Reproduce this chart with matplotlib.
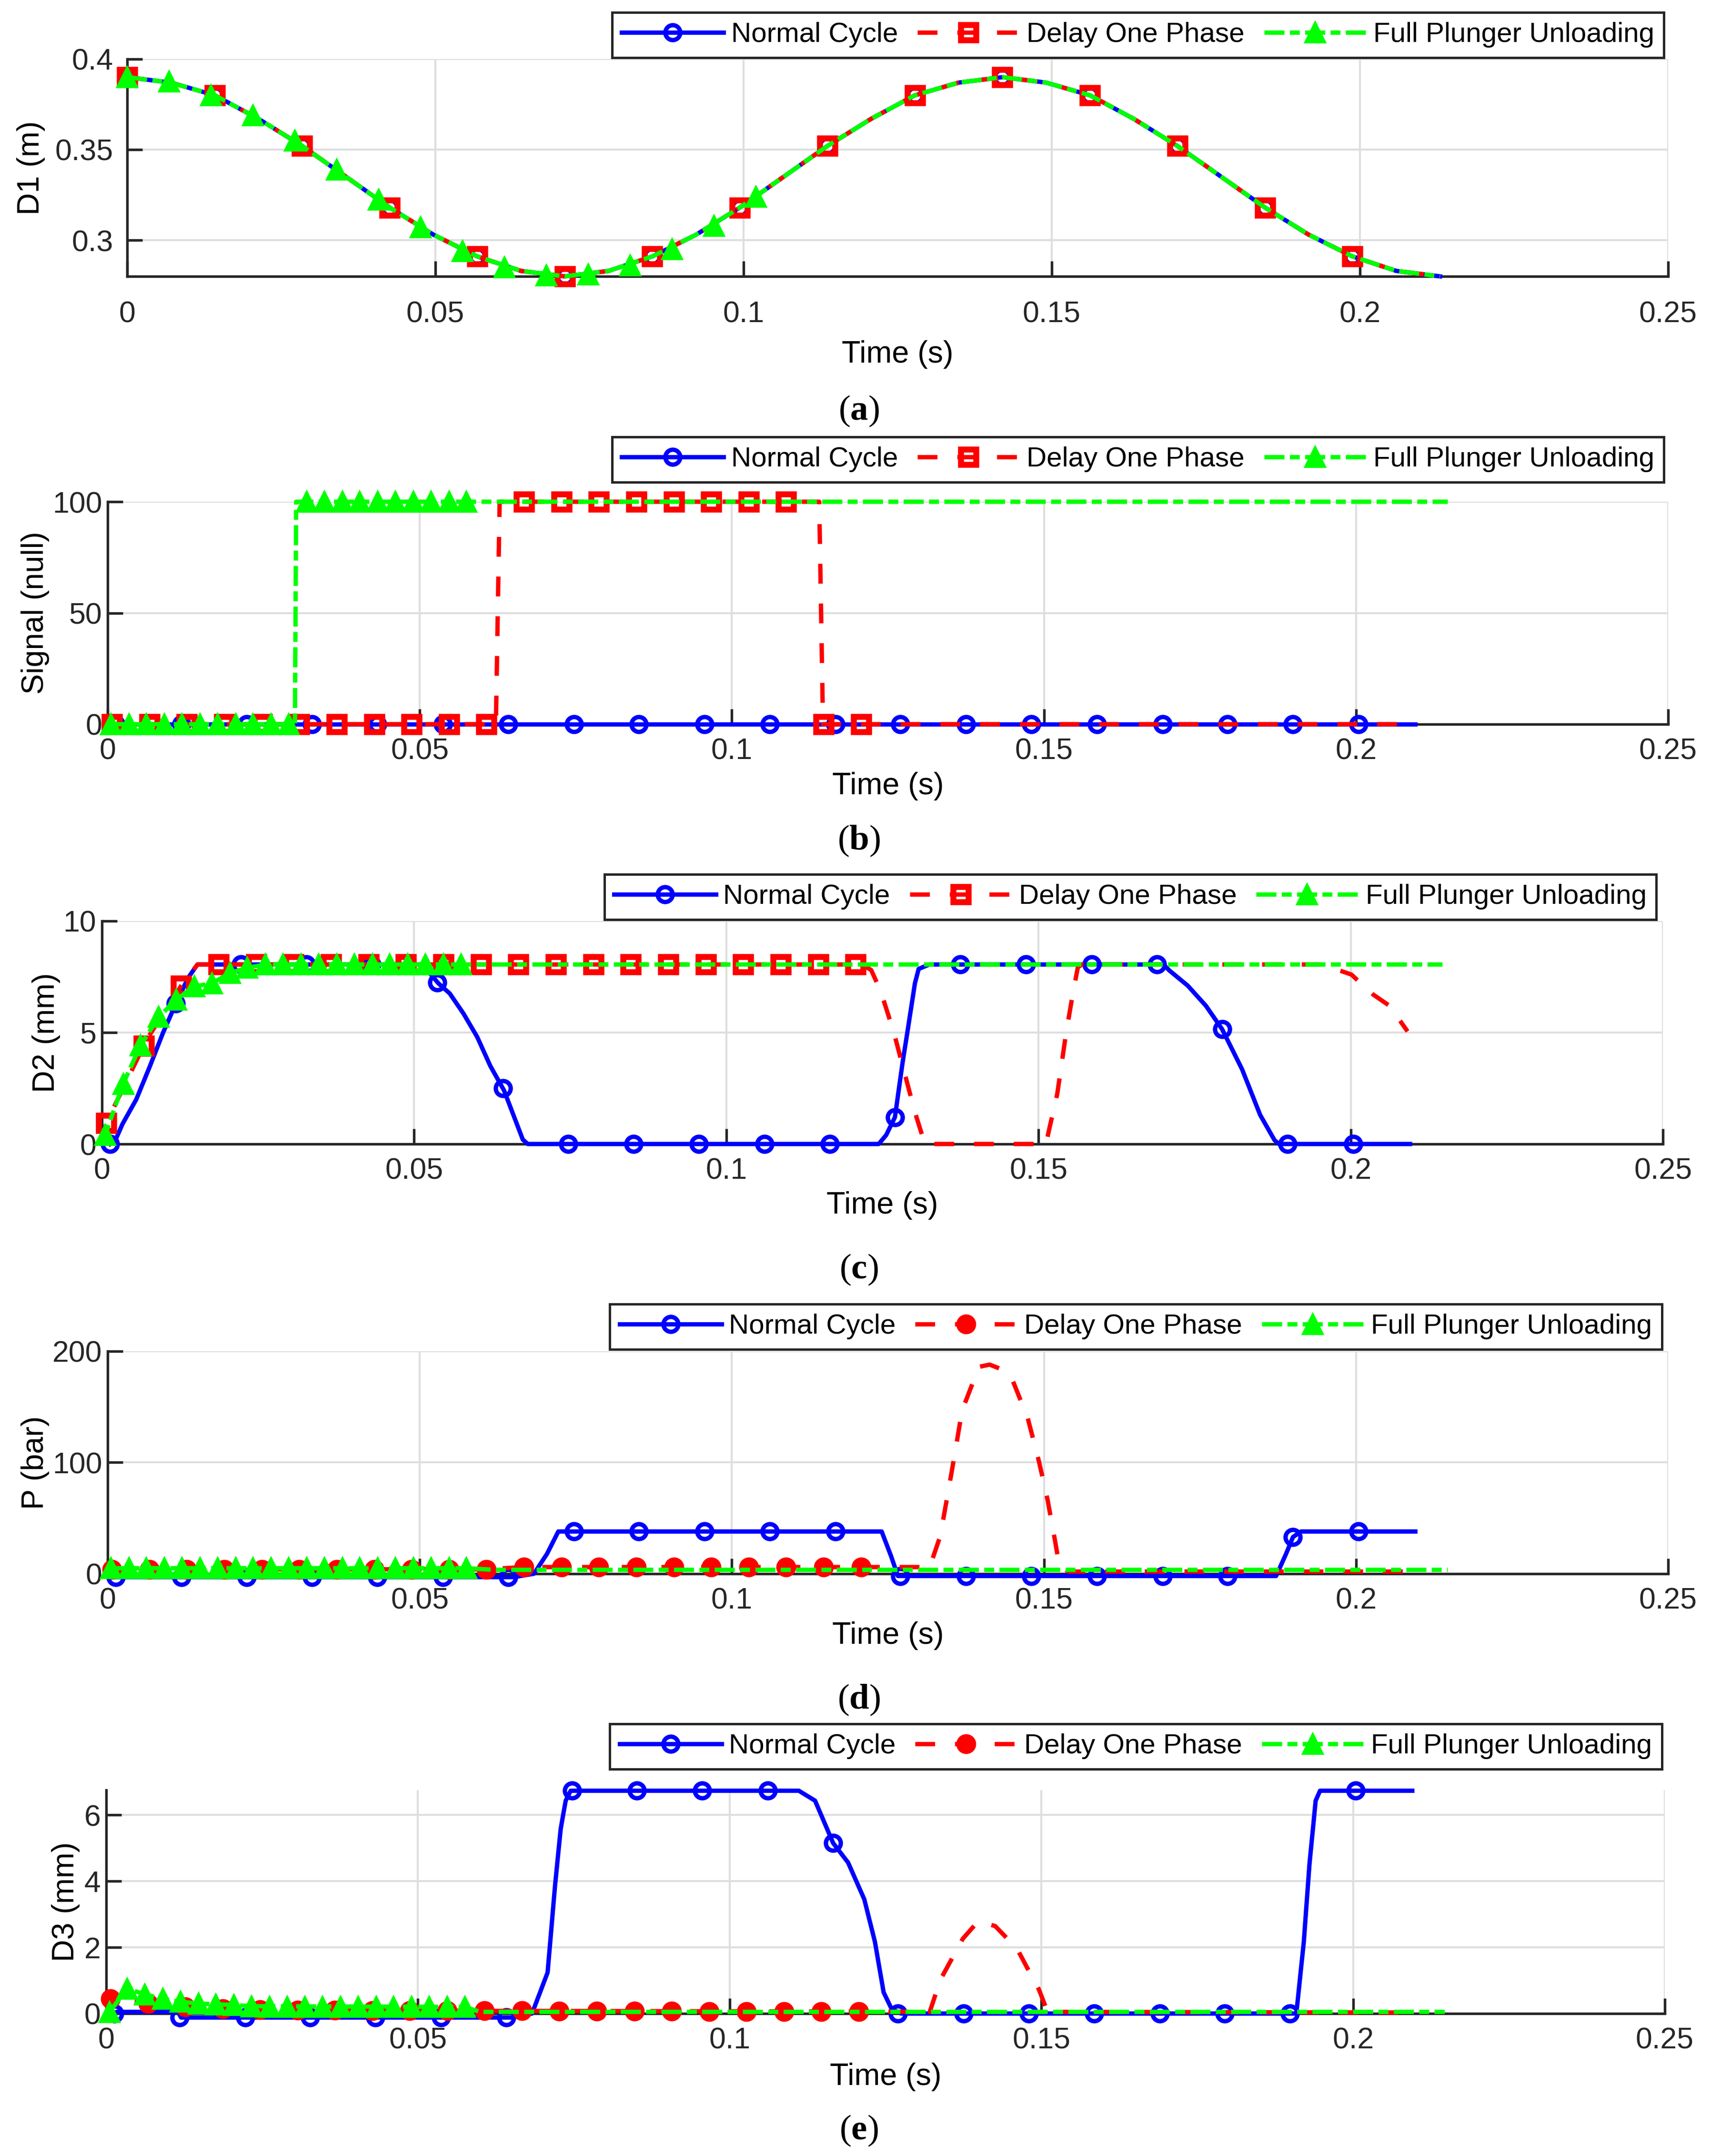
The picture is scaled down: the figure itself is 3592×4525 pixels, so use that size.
import numpy as np
import matplotlib
matplotlib.use("Agg")
import matplotlib.pyplot as plt
from matplotlib.lines import Line2D

plt.rcParams['font.family'] = ['Liberation Sans', 'DejaVu Sans']
plt.rcParams['lines.scale_dashes'] = False
plt.rcParams['mathtext.fontset'] = 'custom'
plt.rcParams['mathtext.rm'] = 'Liberation Serif'
plt.rcParams['mathtext.bf'] = 'Liberation Serif:bold'

# ---------------- data ----------------
labels = ["Normal Cycle", "Delay One Phase", "Full Plunger Unloading"]
xticks = [0, 0.05, 0.1, 0.15, 0.2, 0.25]
xticklabels = ["0", "0.05", "0.1", "0.15", "0.2", "0.25"]

# marker times shared by panels b-e
t_nc_mk = [0.0013, 0.0118, 0.0223, 0.0327, 0.0432, 0.0537, 0.0642, 0.0747, 0.0851, 0.0956,
           0.1061, 0.1166, 0.1270, 0.1375, 0.1480, 0.1585, 0.1690, 0.1794, 0.1899, 0.2004]
t_dp_mk = [0.0007, 0.0067, 0.0127, 0.0187, 0.0247, 0.0307, 0.0367, 0.0427, 0.0487, 0.0547, 0.0607,
           0.0667, 0.0727, 0.0787, 0.0847, 0.0907, 0.0967, 0.1027, 0.1087, 0.1147, 0.1207]
t_fp_mk = [0.0005, 0.0034, 0.0062, 0.0091, 0.0119, 0.0148, 0.0176, 0.0205, 0.0233, 0.0262, 0.0290,
           0.0319, 0.0347, 0.0376, 0.0404, 0.0433, 0.0461, 0.0490, 0.0518, 0.0547, 0.0575]

# (a) D1 (m)
t_d1 = [0.0, 0.0071, 0.0142, 0.0213, 0.0284, 0.0355, 0.0426, 0.0497, 0.0568, 0.0639, 0.0710,
        0.0781, 0.0852, 0.0923, 0.0994, 0.1065, 0.1136, 0.1207, 0.1278, 0.1349, 0.1420,
        0.1491, 0.1562, 0.1633, 0.1704, 0.1775, 0.1846, 0.1917, 0.1988, 0.2059, 0.2130]
d1 = [0.390, 0.387, 0.380, 0.367, 0.352, 0.335, 0.318, 0.303, 0.291, 0.283, 0.280,
      0.283, 0.291, 0.303, 0.318, 0.335, 0.352, 0.367, 0.380, 0.387, 0.390,
      0.387, 0.380, 0.367, 0.352, 0.335, 0.318, 0.303, 0.291, 0.283, 0.280]
t_d1_mk = [0.0, 0.0142, 0.0284, 0.0426, 0.0568, 0.0710, 0.0852, 0.0994, 0.1136, 0.1278,
           0.1420, 0.1562, 0.1704, 0.1846, 0.1988]
d1_mk = [0.390, 0.380, 0.352, 0.318, 0.291, 0.280, 0.291, 0.318, 0.352, 0.380,
         0.390, 0.380, 0.352, 0.318, 0.291]
t_d1_fp_mk = [0.0, 0.0068, 0.0136, 0.0204, 0.0272, 0.0340, 0.0408, 0.0476, 0.0544, 0.0612,
              0.0680, 0.0748, 0.0816, 0.0884, 0.0952, 0.1020]
d1_fp_mk = [0.390, 0.3875, 0.380, 0.369, 0.355, 0.339, 0.3225, 0.307, 0.294, 0.285,
            0.2805, 0.281, 0.286, 0.295, 0.308, 0.324]

# (b) Signal (null)
t_sig_nc = [0.0013, 0.2095]
sig_nc = [0, 0]
sig_nc_mk = [0] * 20
t_sig_dp = [0.0, 0.0622, 0.0628, 0.1140, 0.1146, 0.2095]
sig_dp = [0, 0, 100, 100, 0, 0]
sig_dp_mk = [0] * 11 + [100] * 8 + [0, 0]
t_sig_fp = [0.0, 0.0300, 0.0302, 0.2147]
sig_fp = [0, 0, 100, 100]
sig_fp_mk = [0] * 11 + [100] * 10

# (c) D2 (mm)
t_d2_nc = [0.0013, 0.0022, 0.0033, 0.0055, 0.0077, 0.0098, 0.0120, 0.0138, 0.0153, 0.0513,
           0.0539, 0.0557, 0.0579, 0.0601, 0.0622, 0.0644, 0.0674, 0.0682, 0.1244, 0.1256,
           0.1270, 0.1282, 0.1291, 0.1302, 0.1308, 0.1325, 0.1700, 0.1710, 0.1739, 0.1768,
           0.1794, 0.1826, 0.1855, 0.1878, 0.1885, 0.2095]
d2_nc = [0.0, 0.2, 0.9, 2.0, 3.5, 5.0, 6.4, 7.45, 8.05, 8.05,
         7.2, 6.75, 5.85, 4.8, 3.5, 2.4, 0.2, 0.0, 0.0, 0.4,
         1.2, 3.6, 5.2, 7.2, 7.85, 8.05, 8.05, 7.77, 7.1, 6.2,
         5.15, 3.35, 1.3, 0.17, 0.0, 0.0]
d2_nc_mk = [0.0, 6.3, 8.05, 8.05, 8.05, 7.25, 2.5, 0, 0, 0,
            0, 0, 1.2, 8.05, 8.05, 8.05, 8.05, 5.15, 0, 0]
t_d2_dp = [0.0, 0.0007, 0.0072, 0.0127, 0.0153, 0.1217, 0.1232, 0.1247, 0.1268, 0.1285,
           0.1302, 0.1318, 0.1512, 0.1515, 0.1530, 0.1544, 0.1555, 0.1563, 0.1570, 0.1954,
           0.2001, 0.2036, 0.2062, 0.2091]
d2_dp = [0.0, 0.95, 4.7, 7.1, 8.05, 8.05, 7.8, 6.87, 5.03, 3.23,
         1.43, 0.0, 0.0, 0.4, 2.25, 4.95, 6.75, 7.93, 8.05, 8.05,
         7.6, 6.7, 6.2, 5.05]
d2_dp_mk = [0.95, 4.4, 7.1] + [8.05] * 18
t_d2_fp = [0.0, 0.0005, 0.0034, 0.0062, 0.0091, 0.0119, 0.0148, 0.0176, 0.0205, 0.0233,
           0.0262, 0.2147]
d2_fp = [0.0, 0.4, 2.7, 4.43, 5.7, 6.47, 7.07, 7.2, 7.67, 7.9, 8.05, 8.05]
d2_fp_mk = [0.4, 2.7, 4.43, 5.7, 6.47, 7.07, 7.2, 7.67, 7.9] + [8.05] * 12

# (d) P (bar)
t_p_nc = [0.0013, 0.0651, 0.0683, 0.0704, 0.0722, 0.1240, 0.1255, 0.1266, 0.1872, 0.1888,
          0.1899, 0.1912, 0.2095]
p_nc = [-3, -3, 0, 18, 38, 38, 16, -2, -2, 18, 33, 38, 38]
p_nc_mk = [-3] * 7 + [38] * 5 + [-2] * 6 + [33, 38]
t_p_dp = [0.0, 0.0007, 0.0607, 0.0667, 0.1207, 0.1317, 0.1334, 0.1352, 0.1369, 0.1396,
          0.1413, 0.1431, 0.1449, 0.1474, 0.1492, 0.1506, 0.1518, 0.1525, 0.1540, 0.2095]
p_dp = [0, 4, 4, 6, 6, 6, 34, 91, 147, 186,
        188, 184, 175, 140, 101, 66, 29, 6, 2, 2]
p_dp_mk = [4] * 11 + [6] * 10
t_p_fp = [0.0, 0.0005, 0.0575, 0.0620, 0.2147]
p_fp = [0, 5, 5, 3.5, 3.5]
p_fp_mk = [5] * 21

# (e) D3 (mm)
t_d3_nc = [0.0013, 0.0017, 0.0115, 0.0120, 0.0651, 0.0683, 0.0708, 0.0720, 0.0729, 0.0737,
           0.0745, 0.1111, 0.1137, 0.1166, 0.1190, 0.1216, 0.1233, 0.1247, 0.1260, 0.1275,
           0.1909, 0.1921, 0.1930, 0.1940, 0.1947, 0.2095]
d3_nc = [0.0, 0.05, 0.05, -0.12, -0.12, 0.0, 1.24, 3.88, 5.58, 6.43,
         6.73, 6.73, 6.43, 5.15, 4.56, 3.45, 2.17, 0.64, 0.13, 0.0,
         0.0, 2.17, 4.5, 6.43, 6.73, 6.73]
d3_nc_mk = [0.0] + [-0.12] * 6 + [6.73] * 4 + [5.15] + [0.0] * 7 + [6.73]
t_d3_dp = [0.0, 0.0007, 0.0067, 0.0127, 0.0187, 0.0307, 0.0607, 0.1207, 0.1321, 0.1338,
           0.1374, 0.1396, 0.1400, 0.1426, 0.1461, 0.1479, 0.1496, 0.1510, 0.2095]
d3_dp = [0.0, 0.45, 0.3, 0.2, 0.15, 0.1, 0.08, 0.06, 0.05, 1.02,
         2.26, 2.73, 2.79, 2.64, 1.96, 1.32, 0.73, 0.05, 0.03]
d3_dp_mk = [0.45, 0.3, 0.2, 0.15, 0.12, 0.1, 0.1, 0.09, 0.09, 0.08, 0.08,
            0.08, 0.07, 0.07, 0.07, 0.07, 0.06, 0.06, 0.06, 0.06, 0.06]
t_d3_fp = [0.0, 0.0005, 0.0034, 0.0062, 0.0091, 0.0119, 0.0148, 0.0176, 0.0205, 0.0233,
           0.0575, 0.0600, 0.2147]
d3_fp = [0.0, 0.05, 0.75, 0.58, 0.44, 0.36, 0.3, 0.28, 0.26, 0.22, 0.2, 0.05, 0.05]
d3_fp_mk = [0.05, 0.75, 0.58, 0.44, 0.36, 0.3, 0.28, 0.26, 0.22] + [0.2] * 12

# ---------------- styles ----------------
BLUE, RED, GREEN = (0, 0, 1), (1, 0, 0), (0, 1, 0)
LS_NC = '-'
LS_DP = (0, (10, 10))
LS_FP = (0, (10.1, 2.7, 5, 2.7))
DARK = '#262626'
LW = 2.2


def series(ax, t, y, tm, ym, color, ls, marker, mfc, ms, mew):
    ax.plot(t, y, color=color, ls=ls, lw=LW, zorder=3, clip_on=False)
    ax.plot(tm, ym, ls='none', marker=marker, ms=ms, mfc=mfc, mec=color,
            mew=mew, zorder=3, clip_on=False)
    return Line2D([], [], color=color, ls=ls, lw=LW, marker=marker, ms=ms,
                  mfc=mfc, mec=color, mew=mew)


def style(ax, ylim, yticks, yticklabels, ylabel, ylab_x, xlab_y, xpad, ypad):
    ax.set_xlim(0, 0.25)
    ax.set_xticks(xticks)
    ax.set_xticklabels(xticklabels)
    ax.set_ylim(*ylim)
    ax.set_yticks(yticks)
    ax.set_yticklabels(yticklabels)
    ax.grid(True, color='#dedede', lw=1.0)
    ax.set_axisbelow(True)
    for s in ['top', 'right']:
        ax.spines[s].set_visible(False)
    for s in ['left', 'bottom']:
        ax.spines[s].set_linewidth(1.3)
        ax.spines[s].set_color(DARK)
    ax.tick_params(direction='in', length=7.7, width=1.3, color=DARK,
                   labelsize=15, labelcolor=DARK, top=False, right=False)
    ax.tick_params(axis='x', pad=xpad)
    ax.tick_params(axis='y', pad=ypad)
    pos = ax.get_position()
    ax.set_xlabel('Time (s)', fontsize=15.5, va='center')
    ax.xaxis.set_label_coords((pos.x0 + pos.x1) / 2, xlab_y, transform=fig.transFigure)
    ax.set_ylabel(ylabel, fontsize=15.5, va='center')
    ax.yaxis.set_label_coords(ylab_x, (pos.y0 + pos.y1) / 2, transform=fig.transFigure)


def legend(ax, handles, x, y):
    lg = ax.legend(handles, labels, loc='upper right', bbox_to_anchor=(x, y),
                   bbox_transform=fig.transFigure, ncol=3, fontsize=14,
                   handlelength=3.67, handletextpad=0.26, columnspacing=0.7,
                   borderpad=0.35, borderaxespad=0, fancybox=False,
                   edgecolor=DARK, framealpha=1)
    lg.get_frame().set_linewidth(1.2)


fig = plt.figure(figsize=(3592 / 300, 4525 / 300), dpi=300)

ax_a = fig.add_axes([0.07433, 0.87182, 0.90061, 0.10078])
ax_b = fig.add_axes([0.06292, 0.66409, 0.91202, 0.10320])
ax_c = fig.add_axes([0.05958, 0.46939, 0.91232, 0.10343])
ax_d = fig.add_axes([0.06292, 0.27006, 0.91202, 0.10320])
ax_e = fig.add_axes([0.06208, 0.06608, 0.91091, 0.10364])

NC = dict(color=BLUE, ls=LS_NC, marker='o', mfc='none', ms=7.5, mew=2.2)
DP_SQ = dict(color=RED, ls=LS_DP, marker='s', mfc='none', ms=7.5, mew=3.0)
DP_DOT = dict(color=RED, ls=LS_DP, marker='o', mfc=RED, ms=8.5, mew=1.5)
FP = dict(color=GREEN, ls=LS_FP, marker='^', mfc=GREEN, ms=10, mew=1.0)

# (a)
h = [series(ax_a, t_d1, d1, t_d1_mk, d1_mk, **NC),
     series(ax_a, t_d1, d1, t_d1_mk, d1_mk, **DP_SQ),
     series(ax_a, t_d1, d1, t_d1_fp_mk, d1_fp_mk, **FP)]
style(ax_a, (0.28, 0.4), [0.3, 0.35, 0.4], ['0.3', '0.35', '0.4'], 'D1 (m)',
      0.0181, 0.83558, 12, 7)
legend(ax_a, h, 0.9725, 0.99425)

# (b)
h = [series(ax_b, t_sig_nc, sig_nc, t_nc_mk, sig_nc_mk, **NC),
     series(ax_b, t_sig_dp, sig_dp, t_dp_mk, sig_dp_mk, **DP_SQ),
     series(ax_b, t_sig_fp, sig_fp, t_fp_mk, sig_fp_mk, **FP)]
style(ax_b, (0, 100), [0, 50, 100], ['0', '50', '100'], 'Signal (null)',
      0.0206, 0.63536, 6.5, 2.8)
legend(ax_b, h, 0.9725, 0.79735)

# (c)
h = [series(ax_c, t_d2_nc, d2_nc, t_nc_mk, d2_nc_mk, **NC),
     series(ax_c, t_d2_dp, d2_dp, t_dp_mk, d2_dp_mk, **DP_SQ),
     series(ax_c, t_d2_fp, d2_fp, t_fp_mk, d2_fp_mk, **FP)]
style(ax_c, (0, 10), [0, 5, 10], ['0', '5', '10'], 'D2 (mm)',
      0.0270, 0.44088, 6.5, 2.8)
legend(ax_c, h, 0.9680, 0.59448)

# (d)
h = [series(ax_d, t_p_nc, p_nc, t_nc_mk, p_nc_mk, **NC),
     series(ax_d, t_p_dp, p_dp, t_dp_mk, p_dp_mk, **DP_DOT),
     series(ax_d, t_p_fp, p_fp, t_fp_mk, p_fp_mk, **FP)]
style(ax_d, (0, 200), [0, 100, 200], ['0', '100', '200'], 'P (bar)',
      0.0206, 0.24133, 6.5, 2.8)
legend(ax_d, h, 0.9712, 0.39514)

# (e)
h = [series(ax_e, t_d3_nc, d3_nc, t_nc_mk, d3_nc_mk, **NC),
     series(ax_e, t_d3_dp, d3_dp, t_dp_mk, d3_dp_mk, **DP_DOT),
     series(ax_e, t_d3_fp, d3_fp, t_fp_mk, d3_fp_mk, **FP)]
style(ax_e, (0, 6.75), [0, 2, 4, 6], ['0', '2', '4', '6'], 'D3 (mm)',
      0.0384, 0.03669, 6.5, 2.8)
legend(ax_e, h, 0.9712, 0.20044)

# captions
for letter, yc in zip(['a', 'b', 'c', 'd', 'e'],
                      [0.80928, 0.60994, 0.41105, 0.21149, 0.01171]):
    fig.text(0.502, yc, r'($\mathbf{%s}$)' % letter, ha='center', va='center',
             fontsize=18, family='Liberation Serif')

fig.savefig('out.png', dpi=300, facecolor='white')
